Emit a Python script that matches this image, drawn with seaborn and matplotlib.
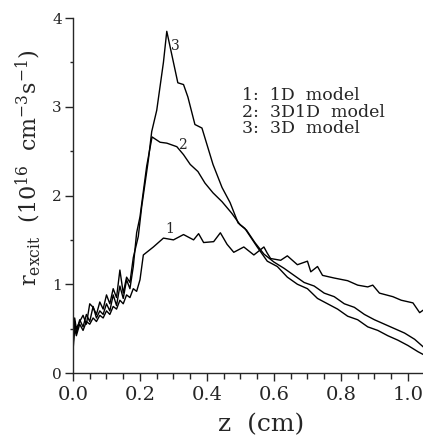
import pandas as pd
import matplotlib
matplotlib.use('Agg')
import matplotlib.pyplot as plt
import seaborn as sns
from matplotlib.ticker import MultipleLocator

# curve 1: 1D model
z1 = [0.0, 0.005, 0.01, 0.02, 0.03, 0.04, 0.05, 0.06, 0.07, 0.08, 0.09, 0.10, 0.11, 0.12,
      0.13, 0.14, 0.15, 0.16, 0.17, 0.18, 0.19, 0.20, 0.21, 0.24, 0.27, 0.30, 0.33, 0.36,
      0.375, 0.39, 0.42, 0.44, 0.46, 0.48, 0.51, 0.54, 0.57, 0.58, 0.59, 0.62, 0.64, 0.67,
      0.70, 0.71, 0.73, 0.745, 0.78, 0.82, 0.85, 0.88, 0.895, 0.915, 0.955, 0.98, 1.015,
      1.035, 1.05]
r1 = [0.25, 0.50, 0.42, 0.55, 0.48, 0.58, 0.55, 0.62, 0.58, 0.65, 0.62, 0.70, 0.66, 0.75,
      0.72, 0.82, 0.78, 0.88, 0.85, 0.95, 0.92, 1.05, 1.33, 1.42, 1.52, 1.50, 1.56, 1.50,
      1.57, 1.47, 1.48, 1.58, 1.45, 1.36, 1.42, 1.33, 1.42, 1.35, 1.29, 1.27, 1.32, 1.22,
      1.26, 1.14, 1.20, 1.10, 1.07, 1.04, 0.99, 0.97, 0.99, 0.90, 0.86, 0.82, 0.79,
      0.68, 0.72]

# curve 2: 3D1D model
z2 = [0.0, 0.005, 0.01, 0.02, 0.03, 0.04, 0.05, 0.06, 0.07, 0.08, 0.09, 0.10, 0.11, 0.12,
      0.13, 0.14, 0.15, 0.16, 0.17, 0.18, 0.19, 0.20, 0.22, 0.236, 0.26, 0.28, 0.31, 0.33,
      0.35, 0.373, 0.394, 0.418, 0.445, 0.474, 0.499, 0.518, 0.543, 0.57, 0.60, 0.63,
      0.66, 0.69, 0.72, 0.75, 0.78, 0.81, 0.84, 0.87, 0.90, 0.93, 0.96, 0.99, 1.02, 1.05]
r2 = [0.30, 0.58, 0.45, 0.60, 0.52, 0.66, 0.58, 0.75, 0.62, 0.70, 0.66, 0.78, 0.70, 0.88,
      0.76, 0.98, 0.84, 1.05, 0.95, 1.20, 1.58, 1.76, 2.33, 2.66, 2.60, 2.59, 2.55, 2.46,
      2.35, 2.27, 2.14, 2.03, 1.93, 1.80, 1.67, 1.61, 1.47, 1.34, 1.25, 1.18, 1.10, 1.02,
      0.98, 0.90, 0.86, 0.78, 0.74, 0.66, 0.60, 0.55, 0.50, 0.45, 0.38, 0.28]

# curve 3: 3D model
z3 = [0.0, 0.005, 0.01, 0.02, 0.03, 0.04, 0.05, 0.06, 0.07, 0.08, 0.09, 0.10, 0.11, 0.12,
      0.13, 0.14, 0.15, 0.16, 0.17, 0.18, 0.195, 0.205, 0.225, 0.235, 0.25, 0.27, 0.28,
      0.313, 0.33, 0.343, 0.364, 0.385, 0.418, 0.445, 0.469, 0.493, 0.513, 0.55, 0.58,
      0.61, 0.64, 0.67, 0.70, 0.73, 0.76, 0.79, 0.82, 0.85, 0.88, 0.91, 0.94, 0.97, 1.00,
      1.03, 1.05]
r3 = [0.35, 0.62, 0.50, 0.58, 0.65, 0.55, 0.78, 0.74, 0.66, 0.80, 0.72, 0.88, 0.78, 0.95,
      0.85, 1.16, 0.90, 1.08, 1.02, 1.30, 1.54, 1.87, 2.40, 2.72, 2.96, 3.50, 3.85, 3.27,
      3.25, 3.11, 2.80, 2.76, 2.35, 2.09, 1.92, 1.69, 1.63, 1.42, 1.26, 1.20, 1.08, 1.00,
      0.95, 0.84, 0.78, 0.72, 0.64, 0.60, 0.52, 0.48, 0.42, 0.37, 0.31, 0.24, 0.20]

curve_tags = ['1', '2', '3']
tag_z = [0.29, 0.328, 0.307]
tag_r = [1.62, 2.57, 3.69]
legend_lines = ['1:  1D  model', '2:  3D1D  model', '3:  3D  model']

sns.set_style('ticks')
plt.rcParams['font.family'] = ['DejaVu Serif']
plt.rcParams['mathtext.fontset'] = 'dejavuserif'

fig = plt.figure(figsize=(4.23, 4.36), dpi=100)
ax = fig.add_axes([73 / 423, 63 / 436, 350 / 423, 355 / 436])

for z, r in [(z1, r1), (z2, r2), (z3, r3)]:
    df = pd.DataFrame({'z': z, 'r': r})
    sns.lineplot(data=df, x='z', y='r', sort=False, estimator=None,
                 color='black', linewidth=1.0, ax=ax)

for t, zx, ry in zip(curve_tags, tag_z, tag_r):
    ax.text(zx, ry, t, fontsize=10, ha='center', va='center')

for i, s in enumerate(legend_lines):
    ax.text(0.505, 3.13 - i * 0.19, s, fontsize=12.5, ha='left', va='center')

ax.set_xlim(0, 1.045)
ax.set_ylim(0, 4)
ax.xaxis.set_major_locator(MultipleLocator(0.2))
ax.xaxis.set_minor_locator(MultipleLocator(0.05))
ax.yaxis.set_major_locator(MultipleLocator(1))
ax.yaxis.set_minor_locator(MultipleLocator(0.5))
ax.xaxis.set_major_formatter(plt.FormatStrFormatter('%.1f'))
ax.tick_params(which='major', length=6, width=1, direction='out')
ax.tick_params(axis='x', which='major', labelsize=14, pad=3)
ax.tick_params(axis='y', which='major', labelsize=11, pad=2)
ax.tick_params(which='minor', length=4, width=1, direction='out')
ax.tick_params(axis='y', which='minor', length=2)
sns.despine(ax=ax)
ax.spines['left'].set_linewidth(1)
ax.spines['bottom'].set_linewidth(1)

ax.set_xlabel('z  (cm)', fontsize=18)
ax.xaxis.set_label_coords((261 - 73) / 350, -(425 - 373) / 355)
ax.set_ylabel(r'$\mathregular{r_{excit}\ \ (10^{16}\ \ cm^{-3}s^{-1})}$', fontsize=16)
ax.yaxis.set_label_coords(-(73 - 28) / 350, (373 - 168) / 355)
ax.xaxis.label.set_va('center')
ax.yaxis.label.set_va('center')

fig.savefig('out.png', dpi=100)
